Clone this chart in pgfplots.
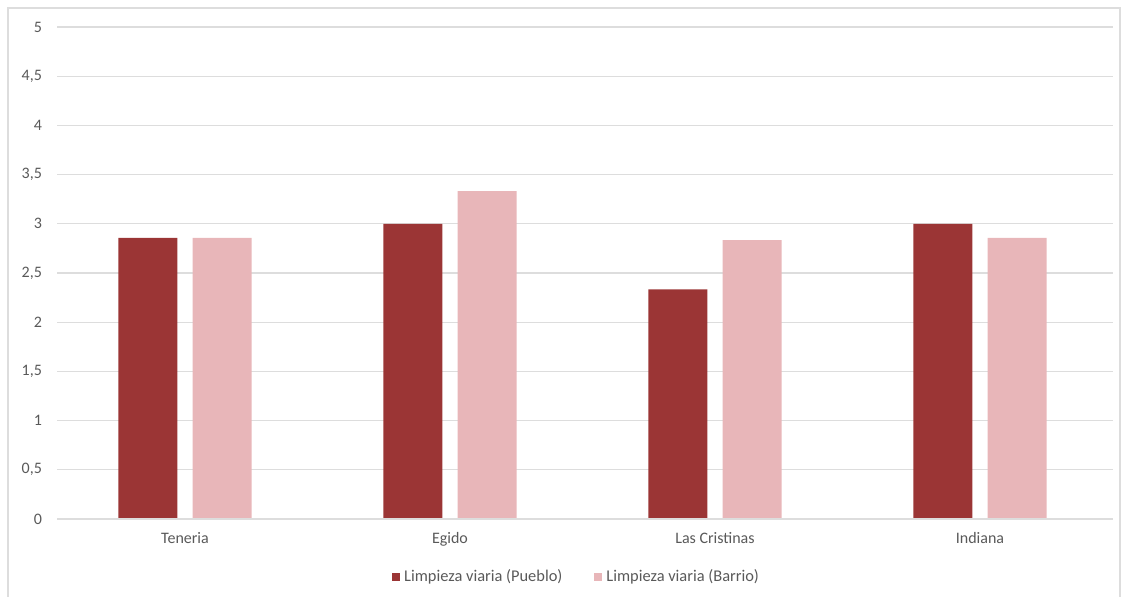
\documentclass[border=0pt]{standalone}
\usepackage{fontspec}
\setmainfont{Carlito}
\usepackage{pgfplots}
\pgfplotsset{compat=1.18}
\definecolor{pueblo}{HTML}{9B3535}
\definecolor{barrio}{HTML}{E8B6B9}
\definecolor{gridc}{HTML}{DDDDDD}
\definecolor{txt}{HTML}{595959}
\begin{document}
\begin{tikzpicture}
\useasboundingbox (-28.5pt,-38.5pt) rectangle (534.5pt,259.5pt);
\draw[gridc, line width=0.6pt] (-24.5pt,-40pt) -- (-24.5pt,255.5pt) -- (531.5pt,255.5pt) -- (531.5pt,-40pt);
\begin{axis}[
    at={(0,0)}, anchor=south west,
    scale only axis,
    width=528pt, height=246pt,
    xmin=-0.483, xmax=3.502,
    ymin=0, ymax=5,
    xtick={0,1,2,3},
    xticklabels={Teneria,Egido,Las Cristinas,Indiana},
    ytick={0,0.5,...,5},
    /pgf/number format/use comma,
    /pgf/number format/assume math mode=true,
    axis line style={draw=none},
    major tick length=0pt,
    ymajorgrids=true,
    grid style={gridc, line width=0.6pt},
    tick label style={font=\fontsize{8}{9.5}\selectfont, text=txt},
    yticklabel style={xshift=-4pt},
    xticklabel style={yshift=-3pt},
    bar width=0.223,
    legend columns=2,
    legend style={draw=none, fill=none, at={(0.493,-0.118)}, anchor=center,
        font=\fontsize{8.2}{9.5}\selectfont, text=txt,
        /tikz/every even column/.append style={column sep=14pt}},
    legend image code/.code={\fill[#1] (0pt,-2pt) rectangle (4pt,2pt);},
]
\addplot[ybar, bar shift=-0.14, fill=pueblo, draw=none] coordinates {
    (0, 2.857) (1, 3.0) (2, 2.333) (3, 3.0)
};
\addlegendentry{Limpieza viaria (Pueblo)}
\addplot[ybar, bar shift=0.14, fill=barrio, draw=none] coordinates {
    (0, 2.857) (1, 3.333) (2, 2.833) (3, 2.857)
};
\addlegendentry{Limpieza viaria (Barrio)}
\draw[gridc, line width=0.6pt] (rel axis cs:0,0) -- (rel axis cs:1,0);
\end{axis}
\end{tikzpicture}
\end{document}
